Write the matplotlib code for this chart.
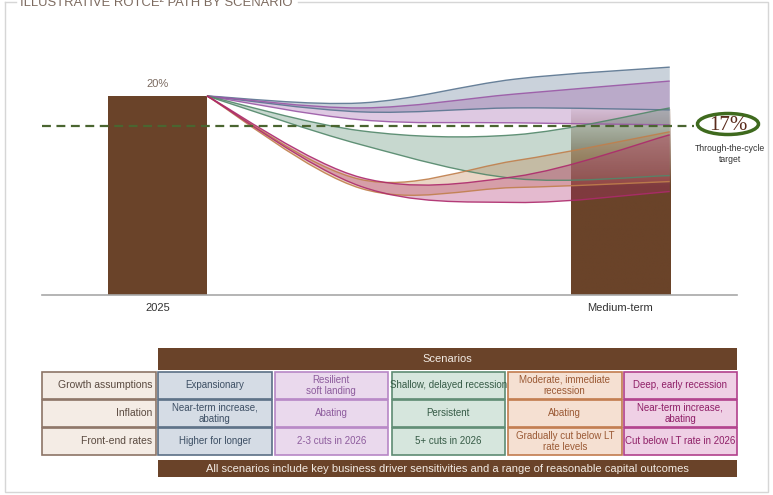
import numpy as np
import matplotlib
matplotlib.use("Agg")
import matplotlib.pyplot as plt
from matplotlib.path import Path
from matplotlib.patches import PathPatch, Rectangle, Ellipse
from matplotlib.colors import to_rgb

plt.rcParams['font.family'] = ['Liberation Sans', 'DejaVu Sans']

# ROTCE (%) - 2025 actual, medium-term bar and through-the-cycle target
start_rotce = 20.0
medium_term_rotce = 18.6
target_rotce = 17.0
period_labels = ["2025", "Medium-term"]

# scenario paths: 2025 -> two interim points -> medium-term
path_x = [0.32, 1.32, 2.32, 3.32]
upper_paths = [
    [20.0, 19.3, 21.7, 22.9],   # expansionary
    [20.0, 18.8, 20.2, 21.5],   # resilient soft landing
    [20.0, 16.5, 16.1, 18.8],   # shallow, delayed recession
    [20.0, 11.6, 13.5, 16.4],   # moderate, immediate recession
    [20.0, 11.8, 11.9, 16.1],   # deep, early recession
]
lower_paths = [
    [20.0, 18.4, 18.8, 18.6],
    [20.0, 17.6, 17.3, 17.1],
    [20.0, 15.1, 11.7, 12.0],
    [20.0, 10.7, 10.8, 11.4],
    [20.0, 10.9, 9.3, 10.4],
]
band_colors = ["#5a7590", "#9a58a6", "#52876a", "#c07f4c", "#ad2a6c"]

row_labels = ["Growth assumptions", "Inflation", "Front-end rates"]
scenario_cells = [
    ["Expansionary", "Near-term increase,\nabating", "Higher for longer"],
    ["Resilient\nsoft landing", "Abating", "2-3 cuts in 2026"],
    ["Shallow, delayed recession", "Persistent", "5+ cuts in 2026"],
    ["Moderate, immediate\nrecession", "Abating", "Gradually cut below LT\nrate levels"],
    ["Deep, early recession", "Near-term increase,\nabating", "Cut below LT rate in 2026"],
]
cell_fills = ["#d5dce5", "#ead9ed", "#d6e6dd", "#f5e0d2", "#efd0e5"]
cell_edges = ["#5b6f85", "#b787c6", "#5e8b73", "#c27c4e", "#b1408c"]
cell_texts = ["#3d4f64", "#8d5c9d", "#365b46", "#9b5a35", "#8f1f67"]

brown = "#6a4329"


def smooth_verts(xs, ys):
    # Bezier control points for a smoothed line through the points
    pts = np.column_stack([xs, ys]).astype(float)
    n = len(pts)
    verts = [pts[0]]
    for i in range(n - 1):
        p0 = pts[max(i - 1, 0)]
        p1 = pts[i]
        p2 = pts[i + 1]
        p3 = pts[min(i + 2, n - 1)]
        verts += [p1 + (p2 - p0) / 6, p2 - (p3 - p1) / 6, p2]
    return verts


fig = plt.figure(figsize=(7.73, 4.95), dpi=100)

# background canvas in pixel units for frame, title and table
bg = fig.add_axes([0, 0, 1, 1], zorder=0)
bg.set_xlim(0, 773)
bg.set_ylim(495, 0)
bg.axis("off")

ax = fig.add_axes([42 / 773, 1 - 295 / 495, 695 / 773, 265 / 495], zorder=1)
ax.patch.set_alpha(0)

# 2025 bar
bars = ax.bar([0], [start_rotce], width=0.642, color=brown, zorder=2)
ax.bar_label(bars, labels=[f"{start_rotce:.0f}%"], padding=5, fontsize=8, color="#7a6a60")

# medium-term bar, fading out towards the top
grad = np.zeros((256, 1, 4))
grad[..., :3] = to_rgb(brown)
levels = np.linspace(0, medium_term_rotce, 256)
grad[:, 0, 3] = np.clip(0.1 + 0.9 * (medium_term_rotce - levels) / (medium_term_rotce - 11.0), 0.1, 1.0)
ax.imshow(grad, extent=[3 - 0.321, 3 + 0.321, 0, medium_term_rotce], origin="lower",
          aspect="auto", interpolation="bilinear", zorder=2)
ax.set_xlim(-0.749, 3.756)
ax.set_ylim(0, 26.63)

# scenario bands
for up, lo, col in zip(upper_paths, lower_paths, band_colors):
    uv = smooth_verts(path_x, up)
    lv = smooth_verts(path_x, lo)[::-1]
    codes = [Path.MOVETO] + [Path.CURVE4] * (len(uv) - 1)
    codes += [Path.LINETO] + [Path.CURVE4] * (len(lv) - 1) + [Path.CLOSEPOLY]
    verts = uv + lv + [uv[0]]
    ax.add_patch(PathPatch(Path(verts, codes), facecolor=col, alpha=0.32, edgecolor="none", zorder=3))
    for line in (up, lo):
        lv2 = smooth_verts(path_x, line)
        lc = [Path.MOVETO] + [Path.CURVE4] * (len(lv2) - 1)
        ax.add_patch(PathPatch(Path(lv2, lc), facecolor="none", edgecolor=col, lw=1.0, alpha=0.9, zorder=4))

# through-the-cycle target
ax.plot([-0.749, 3.48], [target_rotce, target_rotce], ls=(0, (4, 2.5)), color="#4a6530", lw=1.6,
        zorder=5, clip_on=False)

for s in ["top", "left", "right"]:
    ax.spines[s].set_visible(False)
ax.spines["bottom"].set_color("#a8a8a8")
ax.spines["bottom"].set_linewidth(1.2)
ax.set_yticks([])
ax.set_xticks([0, 3])
ax.set_xticklabels(period_labels, fontsize=8, color="#333333")
ax.tick_params(axis="x", length=0, pad=6)

# target callout
bg.add_patch(Ellipse((728, 124), 61, 21, facecolor="white", edgecolor="#3f6a1e", lw=2.5, zorder=2))
bg.text(728, 125, "17%", ha="center", va="center", fontsize=15, color="#5a2b1c",
        family="Liberation Serif", zorder=3)
bg.text(730, 154, "Through-the-cycle\ntarget", ha="center", va="center", fontsize=6.2,
        color="#333333", linespacing=1.25)

# frame with title breaking the top edge
frame = dict(color="#d6d6d6", lw=1.0)
bg.plot([5, 5, 768, 768, 298], [2, 492, 492, 2, 2], **frame)
bg.plot([5, 16], [2, 2], **frame)
bg.text(20, 6.5, "ILLUSTRATIVE ROTCE\u00b2 PATH BY SCENARIO", ha="left", va="baseline",
        fontsize=9.4, color="#7d6b60")

# scenario table
col_x = [158, 274.5, 391.5, 508, 623.5]
col_w = 113.5
row_y = [372, 400, 428]
row_h = 27
bg.add_patch(Rectangle((158, 348), 579, 22, facecolor=brown, edgecolor="none"))
bg.text(447.5, 359.5, "Scenarios", ha="center", va="center", fontsize=8, color="#f2ebe4")
for y, lab in zip(row_y, row_labels):
    bg.add_patch(Rectangle((42, y), 114, row_h, facecolor="#f4ece5", edgecolor="#8c7466", lw=1.2))
    bg.text(152, y + row_h / 2, lab, ha="right", va="center", fontsize=7.5, color="#5a4a40")
for x, cells, fc, ec, tc in zip(col_x, scenario_cells, cell_fills, cell_edges, cell_texts):
    for y, txt in zip(row_y, cells):
        bg.add_patch(Rectangle((x, y), col_w, row_h, facecolor=fc, edgecolor=ec, lw=1.2))
        bg.text(x + col_w / 2, y + row_h / 2, txt, ha="center", va="center", fontsize=7,
                color=tc, linespacing=1.15)
bg.add_patch(Rectangle((158, 460), 579, 17, facecolor=brown, edgecolor="none"))
bg.text(447.5, 468.5, "All scenarios include key business driver sensitivities and a range of reasonable capital outcomes",
        ha="center", va="center", fontsize=8, color="#f2ebe4")

fig.savefig("out.png", dpi=100)
